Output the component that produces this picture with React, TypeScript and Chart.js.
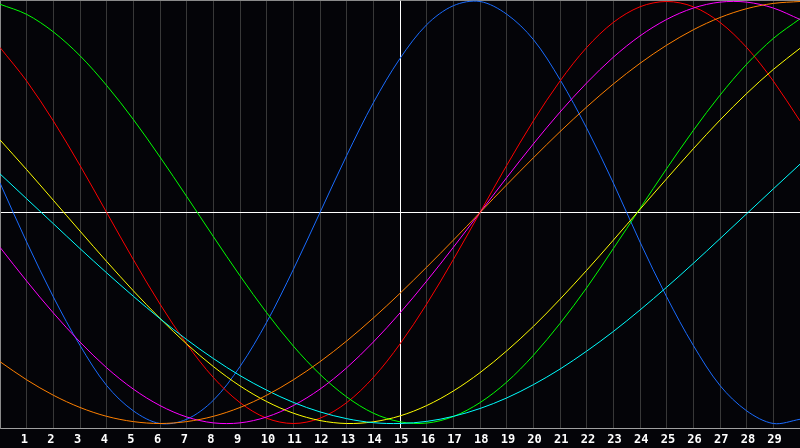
import React, { useEffect, useRef } from "react";
import { Chart, registerables } from "chart.js";

Chart.register(...registerables);

const days = [0, 1, 2, 3, 4, 5, 6, 7, 8, 9, 10, 11, 12, 13, 14, 15, 16, 17, 18, 19, 20, 21, 22, 23, 24, 25, 26, 27, 28, 29, 30];
const tickLabels = ["1", "2", "3", "4", "5", "6", "7", "8", "9", "10", "11", "12", "13", "14", "15", "16", "17", "18", "19", "20", "21", "22", "23", "24", "25", "26", "27", "28", "29"];
const markerDay = 15;

const blueSeries = [0.14, -0.14, -0.40, -0.63, -0.82, -0.94, -1.00, -0.98, -0.89, -0.73, -0.52, -0.27, 0.00, 0.27, 0.52, 0.73, 0.89, 0.98, 1.00, 0.94, 0.82, 0.63, 0.40, 0.14, -0.14, -0.40, -0.63, -0.82, -0.94, -1.00, -0.98];
const redSeries = [0.782, 0.623, 0.434, 0.223, 0, -0.223, -0.434, -0.623, -0.782, -0.901, -0.975, -1.0, -0.975, -0.901, -0.782, -0.623, -0.434, -0.223, 0, 0.223, 0.434, 0.623, 0.782, 0.901, 0.975, 1.0, 0.975, 0.901, 0.782, 0.623, 0.434];
const greenSeries = [0.987, 0.939, 0.856, 0.743, 0.602, 0.441, 0.263, 0.076, -0.114, -0.300, -0.475, -0.633, -0.767, -0.874, -0.951, -0.992, -0.998, -0.967, -0.901, -0.804, -0.677, -0.526, -0.357, -0.171, 0.019, 0.208, 0.389, 0.556, 0.703, 0.825, 0.918];
const magentaSeries = [-0.165, -0.325, -0.476, -0.614, -0.736, -0.837, -0.915, -0.969, -0.997, -0.997, -0.969, -0.915, -0.837, -0.736, -0.614, -0.476, -0.325, -0.165, 0, 0.165, 0.325, 0.476, 0.614, 0.736, 0.837, 0.915, 0.969, 0.997, 0.997, 0.969, 0.915];
const orangeSeries = [-0.707, -0.793, -0.866, -0.924, -0.966, -0.991, -1.0, -0.991, -0.966, -0.924, -0.866, -0.793, -0.707, -0.609, -0.5, -0.383, -0.259, -0.131, 0, 0.131, 0.259, 0.383, 0.5, 0.609, 0.707, 0.793, 0.866, 0.924, 0.966, 0.991, 1.0];
const yellowSeries = [0.344, 0.203, 0.058, -0.088, -0.232, -0.371, -0.502, -0.623, -0.730, -0.822, -0.896, -0.951, -0.986, -1.0, -0.992, -0.964, -0.915, -0.846, -0.759, -0.656, -0.540, -0.411, -0.274, -0.131, 0.015, 0.160, 0.302, 0.438, 0.564, 0.678, 0.778];
const cyanSeries = [0.183, 0.065, -0.053, -0.171, -0.286, -0.397, -0.503, -0.602, -0.692, -0.773, -0.842, -0.900, -0.945, -0.977, -0.996, -1.0, -0.990, -0.966, -0.929, -0.879, -0.816, -0.742, -0.657, -0.564, -0.462, -0.354, -0.241, -0.124, -0.006, 0.112, 0.229];

const Y_MIN = -1.0213;
const Y_MAX = 1.0071;

const seriesDefs = [
  { values: orangeSeries, color: "#ff8000" },
  { values: cyanSeries, color: "#00ffff" },
  { values: yellowSeries, color: "#ffff00" },
  { values: magentaSeries, color: "#ff00ff" },
  { values: greenSeries, color: "#00ff00" },
  { values: redSeries, color: "#ff0000" },
  { values: blueSeries, color: "#1a6cff" },
];

export default function App() {
  const canvasRef = useRef<HTMLCanvasElement | null>(null);

  useEffect(() => {
    document.body.style.margin = "0";
    document.body.style.background = "#040408";
    const canvas = canvasRef.current;
    if (!canvas) return;
    const chart = new Chart(canvas, {
      type: "line",
      data: {
        datasets: seriesDefs.map((s) => ({
          data: days.map((d, i) => ({ x: d, y: s.values[i] })),
          borderColor: s.color,
          borderWidth: 1,
          pointRadius: 0,
          fill: false,
          tension: 0.33,
        })),
      },
      options: {
        responsive: false,
        animation: false,
        devicePixelRatio: 1,
        layout: { padding: 0 },
        plugins: { legend: { display: false }, tooltip: { enabled: false } },
        scales: {
          x: {
            type: "linear",
            min: days[0],
            max: days[days.length - 1],
            afterBuildTicks: (axis: any) => {
              axis.ticks = days.map((d) => ({ value: d }));
            },
            afterFit: (scale: any) => {
              scale.height = 20;
              scale.paddingLeft = 0;
              scale.paddingRight = 0;
            },
            ticks: {
              autoSkip: false,
              maxRotation: 0,
              minRotation: 0,
              align: "start",
              padding: 5,
              labelOffset: -6,
              color: "#ffffff",
              font: { family: "DejaVu Sans Mono", weight: "bold", size: 12 },
              callback: (value: any) => {
                const idx = tickLabels.indexOf(String(value));
                return idx >= 0 ? tickLabels[idx] : "";
              },
            },
            grid: {
              drawTicks: false,
              lineWidth: 1,
              color: (ctx: any) => {
                const v = ctx.tick ? ctx.tick.value : null;
                if (v === markerDay) return "#ffffff";
                if (v === days[0] || v === days[days.length - 1]) return "rgba(0,0,0,0)";
                return "#383838";
              },
            },
            border: { display: true, color: "#a0a0a0", width: 1 },
          },
          y: {
            min: Y_MIN,
            max: Y_MAX,
            afterBuildTicks: (axis: any) => {
              axis.ticks = [{ value: 0 }, { value: Y_MAX }];
            },
            afterFit: (scale: any) => {
              scale.width = 0;
              scale.paddingTop = 0;
              scale.paddingBottom = 0;
            },
            ticks: { display: false },
            grid: {
              drawTicks: false,
              lineWidth: 1,
              color: (ctx: any) => (ctx.tick && ctx.tick.value === 0 ? "#ffffff" : "#8a8a8a"),
            },
            border: { display: true, color: "#8a8a8a", width: 1 },
          },
        },
      } as any,
    });
    return () => chart.destroy();
  }, []);

  return (
    <div style={{ width: 800, height: 448, background: "#040408" }}>
      <canvas ref={canvasRef} width={800} height={448} style={{ display: "block", width: 800, height: 448 }} />
    </div>
  );
}
